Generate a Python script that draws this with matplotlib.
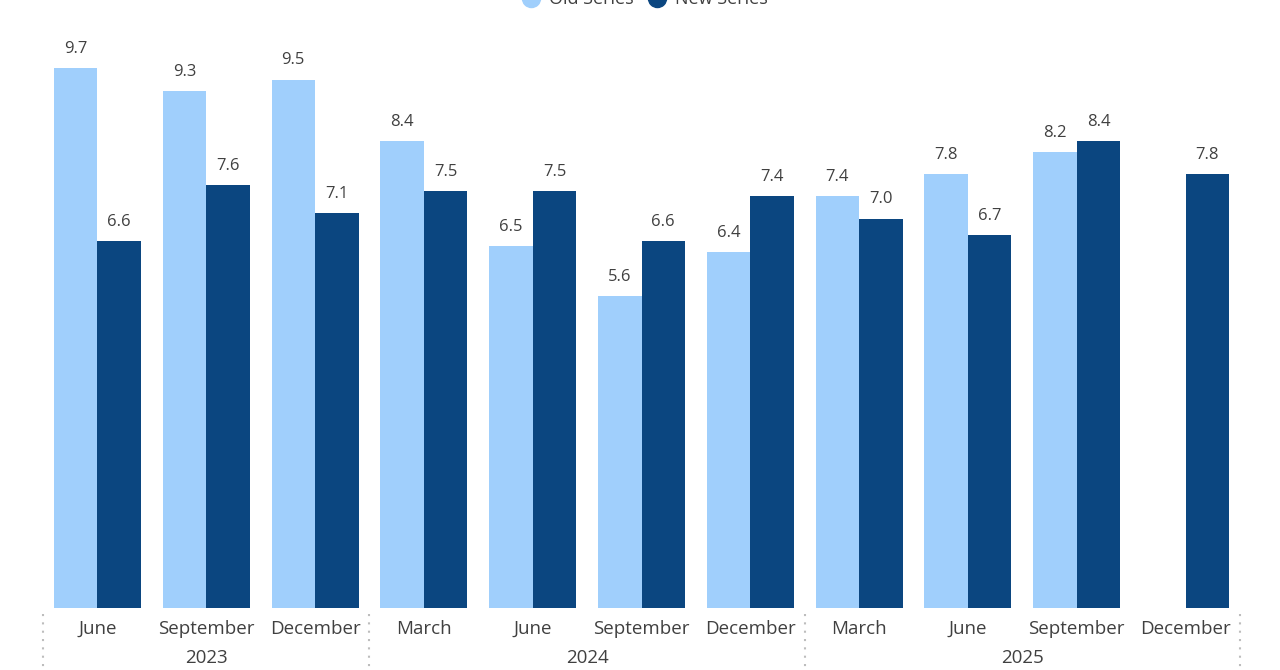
import matplotlib.pyplot as plt
import matplotlib.transforms as mtransforms
from matplotlib.lines import Line2D
import numpy as np

plt.rcParams['font.family'] = ['Open Sans', 'DejaVu Sans']

months = ['June', 'September', 'December', 'March', 'June', 'September',
          'December', 'March', 'June', 'September', 'December']
years = ['2023', '2024', '2025']
year_spans = [(0, 2), (3, 6), (7, 10)]
old_series = [9.7, 9.3, 9.5, 8.4, 6.5, 5.6, 6.4, 7.4, 7.8, 8.2, None]
new_series = [6.6, 7.6, 7.1, 7.5, 7.5, 6.6, 7.4, 7.0, 6.7, 8.4, 7.8]

light = '#A0CFFC'
dark = '#0B4680'
text_col = '#404040'

fig = plt.figure(figsize=(12.8, 6.7), dpi=100)
ax = fig.add_axes([43 / 1280, (670 - 608) / 670, (1240 - 43) / 1280, 608 / 670])

x = np.arange(len(months))
w = 0.4
for i, (o, n) in enumerate(zip(old_series, new_series)):
    if o is not None:
        ax.bar(x[i] - w / 2, o, w, color=light)
        ax.text(x[i] - w / 2, o + 0.2, f"{o:.1f}", ha='center', va='bottom',
                fontsize=12, color=text_col)
    if n is not None:
        ax.bar(x[i] + w / 2, n, w, color=dark)
        ax.text(x[i] + w / 2, n + 0.2, f"{n:.1f}", ha='center', va='bottom',
                fontsize=12, color=text_col)

ax.set_xlim(-0.5, len(months) - 0.5)
ax.set_ylim(0, 10.93)
for s in ax.spines.values():
    s.set_visible(False)
ax.set_yticks([])
ax.set_xticks([])

trans = mtransforms.blended_transform_factory(ax.transData, fig.transFigure)
for i, m in enumerate(months):
    fig.text(x[i], 1 - 629 / 670, m, transform=trans, ha='center', va='center',
             fontsize=13.5, color=text_col)
for yr, (a, b) in zip(years, year_spans):
    fig.text((a + b) / 2, 1 - 658 / 670, yr, transform=trans, ha='center', va='center',
             fontsize=13.5, color=text_col)
# group separators
for sep in [-0.5, 2.5, 6.5, 10.5]:
    fig.add_artist(Line2D([sep, sep], [1 - 614 / 670, 0], transform=trans,
                          color='#BDBDBD', linestyle=(0, (1, 3)), linewidth=1.5))

handles = [Line2D([], [], marker='o', linestyle='', color=light, markersize=13),
           Line2D([], [], marker='o', linestyle='', color=dark, markersize=13)]
fig.legend(handles, ['Old Series', 'New Series'], loc='center', ncol=2,
           bbox_to_anchor=(0.5, 1 + 1 / 670), frameon=False, fontsize=13,
           handletextpad=0.0, columnspacing=0.3, labelcolor=text_col)

fig.savefig('out.png', dpi=100)
